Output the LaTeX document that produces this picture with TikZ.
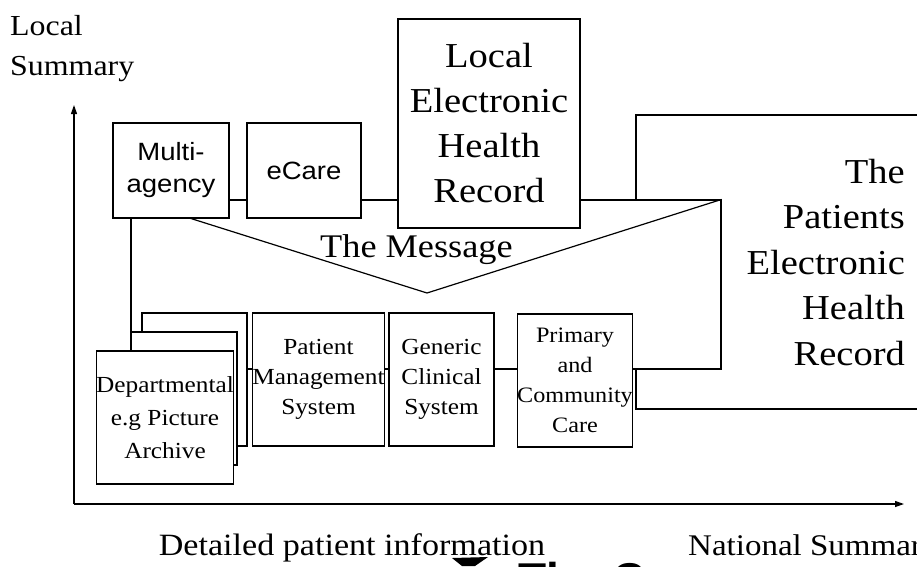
\documentclass[tikz,border=0pt]{standalone}
\usepackage{fontspec}
\setmainfont{Liberation Serif}
\newfontfamily\serifw[FakeStretch=1.1]{Liberation Serif}
\newfontfamily\sansw[FakeStretch=1.1]{Liberation Sans}
\newfontfamily\sansbd{Liberation Sans}
\usetikzlibrary{arrows.meta}
\begin{document}
\begin{tikzpicture}[x=1pt,y=-1pt,
  ln/.style={line width=1.2pt},
  box/.style={draw, fill=white, line width=1.2pt, inner sep=0pt, align=center},
  lbl/.style={inner sep=0pt},
  ax/.style={line width=1.2pt, -{Triangle[length=9pt,width=6pt]}},
  sbig/.style={font=\serifw\fontsize{35}{45}\selectfont},
  ssmall/.style={font=\serifw\fontsize{23}{30}\selectfont},
  sansbox/.style={font=\sansw\fontsize{25}{32}\selectfont}]
\useasboundingbox (0,0) rectangle (917,566);
\clip (0,0) rectangle (917,566);

% The patients electronic health record (extends beyond the right edge)
\node[box, minimum width=324pt, minimum height=294pt] (pehr) at (798,262) {};

% The message envelope
\node[box, minimum width=590pt, minimum height=169pt] (msg) at (426,284.5) {};
\coordinate (apex) at (427,293);
\draw[ln, line join=miter] (msg.north west) -- (apex) -- (msg.north east);
\node[lbl, anchor=base west, font=\serifw\fontsize{33}{40}\selectfont] (msglabel) at (320,257) {The Message};

% upper row
\node[box, sansbox, minimum width=116pt, minimum height=95pt] (multi) at (171,170.5) {Multi-\\agency};
\node[box, sansbox, minimum width=114pt, minimum height=95pt] (ecare) at (304,170.5) {eCare};
\node[box, sbig, minimum width=182pt, minimum height=209pt] (lehr) at (489,123.5) {Local\\Electronic\\Health\\Record};

% lower row
\node[box, minimum width=105pt, minimum height=133pt] (dback) at (194.5,379.5) {};
\node[box, minimum width=106pt, minimum height=133pt] (dmid) at (184,398.5) {};
\node[box, font=\serifw\fontsize{23}{33}\selectfont, minimum width=106pt, minimum height=133pt] (dfront) at (165,417.5) {Departmental\\e.g Picture\\Archive};
\node[box, ssmall, minimum width=103pt, minimum height=133pt] (pms) at (318.5,379.5) {Patient\\Management\\System};
\node[box, ssmall, minimum width=105pt, minimum height=133pt] (gcs) at (441.5,379.5) {Generic\\Clinical\\System};
\node[box, font=\serifw\fontsize{22}{30}\selectfont, minimum width=104pt, minimum height=133pt] (pcc) at (575,380.5) {Primary\\and\\Community\\Care};

% text of the patients record
\node[lbl, align=right, anchor=north east, font=\serifw\fontsize{35}{45.5}\selectfont] (pehrtext) at (905,159) {The\\Patients\\Electronic\\Health\\Record};

% axes
\coordinate (origin) at (74,504);
\coordinate (ytip) at (74,105);
\coordinate (xtip) at (904,504);
\draw[ax] (origin) -- (ytip);
\draw[ax] (origin) -- (xtip);
\node[lbl, align=left, anchor=north west, font=\serifw\fontsize{29}{40}\selectfont] (ylabel) at (10,15) {Local\\Summary};
\node[lbl, anchor=base, font=\serifw\fontsize{31}{36}\selectfont] (xleft) at (352,555) {Detailed patient information};
\node[lbl, anchor=base west, font=\serifw\fontsize{30}{36}\selectfont] (xright) at (688,555) {National Summary};

% cut-off material at the bottom edge
\fill (452,558) -- (488,557) -- (475,566) -- (462,566) -- cycle;
\node[lbl, anchor=base west, font=\sansbd\bfseries\fontsize{46}{50}\selectfont] (cut) at (518,595) {The C};
\end{tikzpicture}
\end{document}
